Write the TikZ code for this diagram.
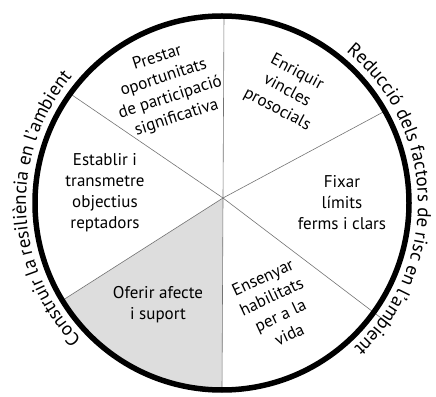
\documentclass[tikz,border=0pt]{standalone}
\usepackage{fontspec}
\setmainfont{PT Sans}
\usetikzlibrary{calc,decorations.text}

\definecolor{greyseg}{RGB}{221,221,221}
\newcommand\arcfont{\fontsize{19}{21}\selectfont}

\tikzset{
  segtext/.style={align=center, inner sep=0pt, font=\fontsize{17}{21}\selectfont},
  spoke/.style={draw=black!55, line width=0.6pt},
  rim/.style={draw=black, line width=5.5pt},
  arctext/.style={decorate, decoration={text along path, text align=center, text={|\arcfont|#1}}},
}

\begin{document}
\begin{tikzpicture}[x=1pt,y=1pt]
\useasboundingbox (0,0) rectangle (436,396);

\coordinate (C) at (222,193); % mitte kreis
\coordinate (H) at (223,198); % treffpunkt speichen

%SPEICHEN ENDEN
\coordinate (top) at (224,381);
\coordinate (ul) at (72,301);
\coordinate (ll) at ($(C)+(211.4:187)$);
\coordinate (bot) at ($(C)+(270:187)$);
\coordinate (lr) at (389,72);
\coordinate (ur) at (387,286);

%GRAUER SEKTOR (unten links)
\fill[greyseg] (H) -- (ll) arc[start angle=211.4, end angle=270, radius=187] -- cycle;

%SPEICHEN
\foreach \e in {top,ul,ll,bot,lr,ur}
  \draw[spoke] (H) -- (\e);

%RAND
\draw[rim] (C) circle[radius=187];

%SEKTOR NR. 0 (oben links)
\node[segtext, rotate=18] (prestar) at (167,308) {Prestar\\oportunitats\\de participació\\significativa};

%SEKTOR NR. 1 (oben rechts)
\node[segtext, rotate=-28] (enriquir) at (287,305) {Enriquir\\vincles\\prosocials};

%SEKTOR NR. 2 (rechts)
\node[segtext] (fixar) at (342,193) {Fixar\\límits\\ferms i clars};

%SEKTOR NR. 3 (unten rechts)
\node[segtext, rotate=25] (ensenyar) at (276,90) {Ensenyar\\habilitats\\per a la\\vida};

%SEKTOR NR. 4 (unten links)
\node[segtext] (oferir) at (158,91) {Oferir afecte\\i suport};

%SEKTOR NR. 5 (links)
\node[segtext] (establir) at (105,203) {Establir i\\transmetre\\objectius\\reptadors};

%BOGENTEXTE
\path[arctext={Construir la resiliència en l'ambient}]
  ($(C)+(226:196)$) arc[start angle=226, end angle=138, radius=196];
\path[arctext={Reducció dels factors de risc en l'ambient}]
  ($(C)+(51:196)$) arc[start angle=51, end angle=-48, radius=196];

\end{tikzpicture}
\end{document}
